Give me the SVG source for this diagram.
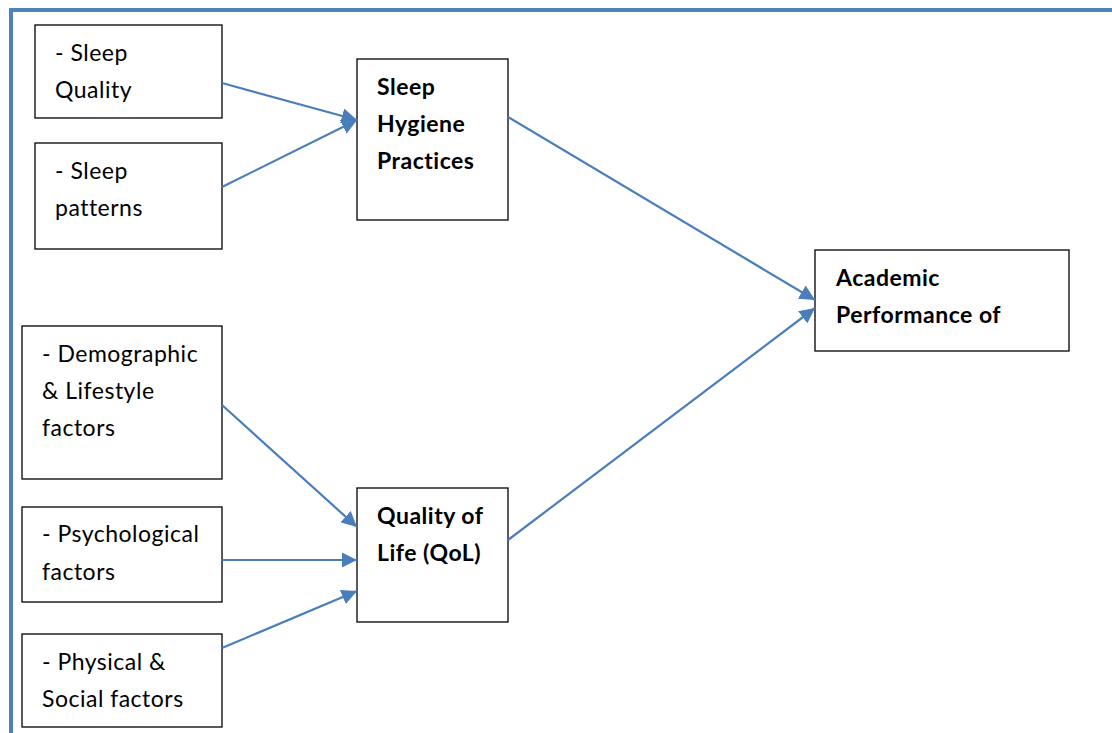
<svg xmlns="http://www.w3.org/2000/svg" width="1112" height="733" viewBox="0 0 1112 733">
<defs>
<style>
.box{fill:#fff;stroke:#000;stroke-width:1.3}
.t{font-family:Lato,"Liberation Sans",sans-serif;font-size:23px;letter-spacing:0.5px;font-variant-ligatures:none;fill:#000}
.b{font-weight:bold}
.c{stroke:#4A7EBB;stroke-width:2.2;fill:none;marker-end:url(#ah)}
</style>
<marker id="ah" viewBox="0 0 10 10" refX="10" refY="5" markerWidth="7" markerHeight="7" markerUnits="strokeWidth" orient="auto">
<path d="M0,0 L10,5 L0,10 z" fill="#4A7EBB"/>
</marker>
</defs>
<rect width="1112" height="733" fill="#fff"/>
<path d="M11,733 V10 H1112" fill="none" stroke="#4F81BD" stroke-width="4"/>
<g id="n1"><rect class="box" x="35" y="25" width="187" height="93"/><text class="t" x="55" y="61">- Sleep</text><text class="t" x="55" y="98">Quality</text></g>
<g id="n2"><rect class="box" x="35" y="143" width="187" height="106"/><text class="t" x="55" y="179">- Sleep</text><text class="t" x="55" y="216">patterns</text></g>
<g id="n3"><rect class="box" x="357" y="59" width="151" height="161"/><text class="t b" x="377" y="95">Sleep</text><text class="t b" x="377" y="132">Hygiene</text><text class="t b" x="377" y="169">Practices</text></g>
<g id="n4"><rect class="box" x="815" y="250" width="254" height="101"/><text class="t b" x="836" y="286">Academic</text><text class="t b" x="836" y="323">Performance of</text></g>
<g id="n5"><rect class="box" x="22" y="326" width="200" height="153"/><text class="t" x="42" y="362">- Demographic</text><text class="t" x="42" y="399">&amp; Lifestyle</text><text class="t" x="42" y="436">factors</text></g>
<g id="n6"><rect class="box" x="22" y="507" width="200" height="95"/><text class="t" x="42" y="542">- Psychological</text><text class="t" x="42" y="580">factors</text></g>
<g id="n7"><rect class="box" x="22" y="634" width="200" height="93"/><text class="t" x="42" y="670">- Physical &amp;</text><text class="t" x="42" y="707">Social factors</text></g>
<g id="n8"><rect class="box" x="357" y="488" width="151" height="134"/><text class="t b" x="377" y="524">Quality of</text><text class="t b" x="377" y="561">Life (QoL)</text></g>
<g id="connectors">
<line class="c" x1="222" y1="83" x2="357" y2="120"/>
<line class="c" x1="222" y1="187" x2="357" y2="120"/>
<line class="c" x1="508" y1="117" x2="815" y2="300"/>
<line class="c" x1="222" y1="405" x2="357" y2="527"/>
<line class="c" x1="222" y1="560" x2="357" y2="560"/>
<line class="c" x1="222" y1="648" x2="357" y2="591"/>
<line class="c" x1="508" y1="540" x2="815" y2="308"/>
</g>
</svg>
